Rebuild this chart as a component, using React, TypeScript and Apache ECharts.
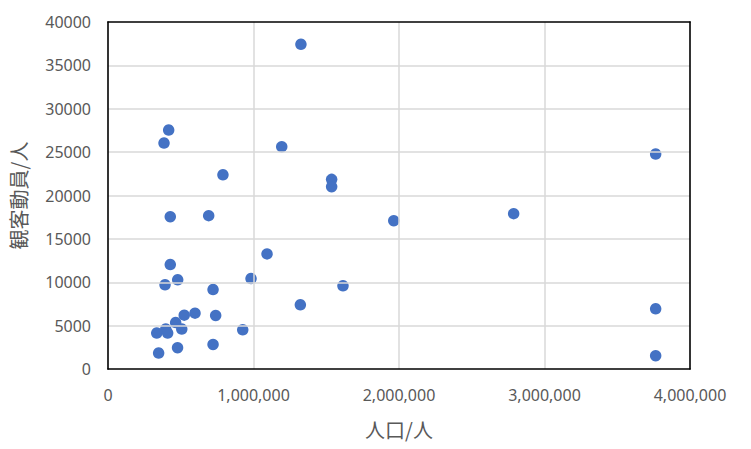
import React, { useEffect, useRef } from "react";
import * as echarts from "echarts";

const population: number[] = [
  1326000, 417000, 385000, 1194000, 790000, 1537000, 1537000, 428000, 692000,
  1964000, 2788000, 3764000, 3764000, 3764000, 1093000, 428000, 983000, 479000,
  392000, 1615000, 722000, 1322000, 598000, 524000, 740000, 465000, 507000,
  926000, 397000, 335000, 410000, 478000, 722000, 348000,
];
const attendance: number[] = [
  37430, 27540, 26040, 25620, 22390, 21860, 21010, 17560, 17680,
  17100, 17910, 24780, 6940, 1530, 13270, 12040, 10430, 10280,
  9700, 9590, 9160, 7400, 6440, 6210, 6170, 5360, 4600,
  4520, 4600, 4140, 4140, 2450, 2830, 1840,
];
const xAxisName = "人口/人";
const yAxisName = "観客動員/人";

export default function App() {
  const ref = useRef<HTMLDivElement>(null);
  useEffect(() => {
    document.body.style.margin = "0";
    const chart = echarts.init(ref.current!, undefined, { renderer: "svg" });
    const data = population.map((p, i) => [p, attendance[i]]);
    const labelStyle = {
      color: "#595959",
      fontSize: 16,
      fontFamily: "Noto Sans",
    };
    const split = {
      show: true,
      showMinLine: false,
      showMaxLine: false,
      lineStyle: { color: "#d9d9d9", width: 1.5 },
    };
    chart.setOption({
      animation: false,
      backgroundColor: "#ffffff",
      grid: {
        left: 108,
        right: 61,
        top: 22,
        bottom: 80,
        show: false,
        containLabel: false,
      },
      graphic: [],
      xAxis: [
        {
          type: "value",
          min: 0,
          max: 4000000,
          interval: 1000000,
          name: xAxisName,
          nameLocation: "middle",
          nameGap: 50,
          nameTextStyle: {
            color: "#595959",
            fontSize: 20,
            fontFamily: "Noto Sans CJK JP",
          },
          axisLine: { show: true, onZero: false, lineStyle: { color: "#000000", width: 1.6 } },
          axisTick: { show: false },
          axisLabel: {
            ...labelStyle,
            margin: 18,
            formatter: (v: number) => v.toLocaleString("en-US"),
          },
          splitLine: split,
          z: 5,
        },
        {
          type: "value",
          position: "top",
          min: 0,
          max: 4000000,
          interval: 1000000,
          axisLine: { show: true, onZero: false, lineStyle: { color: "#000000", width: 1.6 } },
          axisTick: { show: false },
          axisLabel: { show: false },
          splitLine: { show: false },
          z: 5,
        },
      ],
      yAxis: [
        {
          type: "value",
          min: 0,
          max: 40000,
          interval: 5000,
          name: yAxisName,
          nameLocation: "middle",
          nameGap: 80,
          nameTextStyle: {
            color: "#595959",
            fontSize: 20,
            fontFamily: "Noto Sans CJK JP",
          },
          axisLine: { show: true, onZero: false, lineStyle: { color: "#000000", width: 1.6 } },
          axisTick: { show: false },
          axisLabel: { ...labelStyle, margin: 17, formatter: (v: number) => String(v) },
          splitLine: split,
          z: 5,
        },
        {
          type: "value",
          position: "right",
          min: 0,
          max: 40000,
          interval: 5000,
          axisLine: { show: true, onZero: false, lineStyle: { color: "#000000", width: 1.6 } },
          axisTick: { show: false },
          axisLabel: { show: false },
          splitLine: { show: false },
          z: 5,
        },
      ],
      series: [
        {
          type: "scatter",
          data,
          symbol: "circle",
          symbolSize: 11.5,
          itemStyle: { color: "#4472C4", opacity: 1 },
          z: 3,
        },
      ],
    });
    return () => chart.dispose();
  }, []);
  return <div ref={ref} style={{ width: 751, height: 449 }} />;
}
